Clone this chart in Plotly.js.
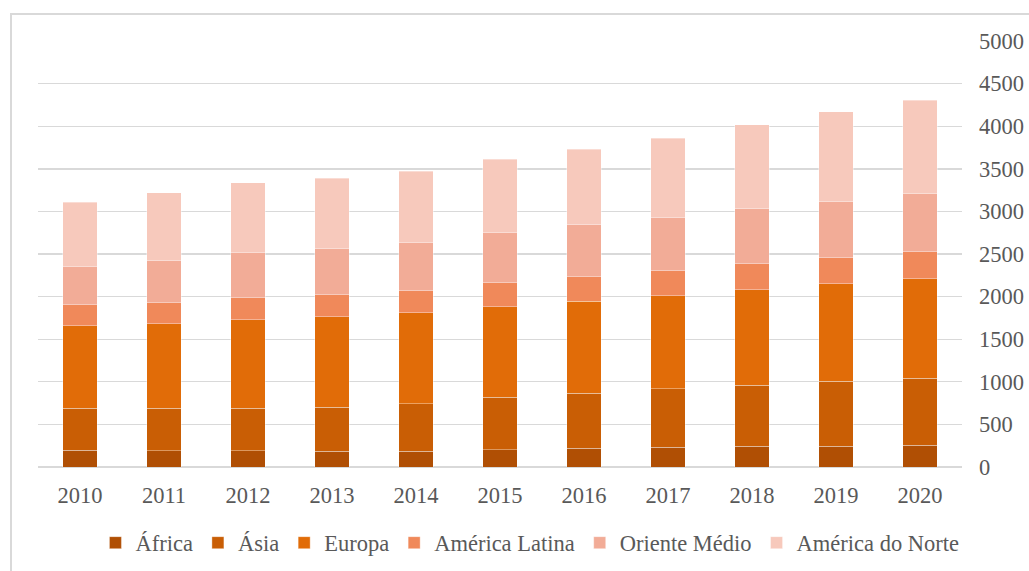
<!DOCTYPE html>
<html>
<head>
<meta charset="utf-8">
<script src="https://cdn.plot.ly/plotly-3.0.1.min.js"></script>
<style>
  html, body { margin: 0; padding: 0; background: #ffffff; }
  #wrap { position: relative; width: 1029px; height: 571px; overflow: hidden; }
  #chart { position: absolute; left: 0; top: 0; width: 1029px; height: 571px; }
  #frame { position: absolute; left: 10px; top: 13px; width: 1100px; height: 700px;
           border-left: 2px solid #d9d9d9; border-top: 2px solid #d9d9d9; pointer-events: none; }
</style>
</head>
<body>
<div id="wrap"><div id="chart"></div><div id="frame"></div></div>
<script>
const years = ['2010','2011','2012','2013','2014','2015','2016','2017','2018','2019','2020'];
const africa = [199, 188, 188, 183, 183, 203, 223, 234, 246, 246, 258];
const asia = [492, 503, 503, 516, 562, 617, 644, 684, 715, 762, 785];
const europa = [969, 992, 1039, 1066, 1063, 1062, 1079, 1093, 1121, 1144, 1164];
const americaLatina = [246, 246, 258, 254, 262, 282, 288, 290, 301, 305, 320];
const orienteMedio = [442, 492, 524, 543, 563, 586, 609, 624, 648, 664, 688];
const americaNorte = [758, 797, 824, 829, 840, 860, 888, 931, 984, 1051, 1090];

const seriesNames = ['África', 'Ásia', 'Europa', 'América Latina', 'Oriente Médio', 'América do Norte'];
const seriesValues = [africa, asia, europa, americaLatina, orienteMedio, americaNorte];
const seriesColors = ['#B04F04', '#C95E05', '#E16C08', '#F0895A', '#F2AC97', '#F7C9BC'];

const FONT = '"Liberation Serif", "Times New Roman", serif';
const FS = 22.5;

const traces = seriesNames.map((name, i) => ({
  type: 'bar',
  name: name,
  x: years,
  y: seriesValues[i],
  marker: { color: seriesColors[i], line: { color: 'rgba(255,255,255,0.45)', width: 0.8 } },
  hoverinfo: 'name+y'
}));

const layout = {
  width: 1029,
  height: 571,
  barmode: 'stack',
  bargap: 0.595,
  paper_bgcolor: '#ffffff',
  plot_bgcolor: '#ffffff',
  margin: { l: 38, r: 67, t: 41, b: 104, pad: 0 },
  font: { family: FONT, size: FS, color: '#595959' },
  xaxis: {
    type: 'category',
    showgrid: false,
    showline: false,
    zeroline: false,
    ticks: '',
    ticklabelstandoff: 12,
    tickfont: { family: FONT, size: FS, color: '#595959' }
  },
  yaxis: {
    side: 'right',
    range: [0, 5000],
    dtick: 500,
    tick0: 0,
    showgrid: true,
    gridcolor: '#d9d9d9',
    gridwidth: 1.4,
    zeroline: true,
    zerolinecolor: '#d9d9d9',
    zerolinewidth: 1.8,
    showline: false,
    ticks: '',
    ticklabelstandoff: 16,
    tickfont: { family: FONT, size: FS, color: '#595959' }
  },
  showlegend: true,
  legend: {
    orientation: 'h',
    xref: 'container',
    yref: 'container',
    x: 0.515,
    xanchor: 'center',
    y: 0.049,
    yanchor: 'middle',
    traceorder: 'normal',
    font: { family: FONT, size: FS, color: '#595959' },
    bgcolor: 'rgba(0,0,0,0)'
  }
};

Plotly.newPlot('chart', traces, layout, { displayModeBar: false, staticPlot: true });
</script>
</body>
</html>
